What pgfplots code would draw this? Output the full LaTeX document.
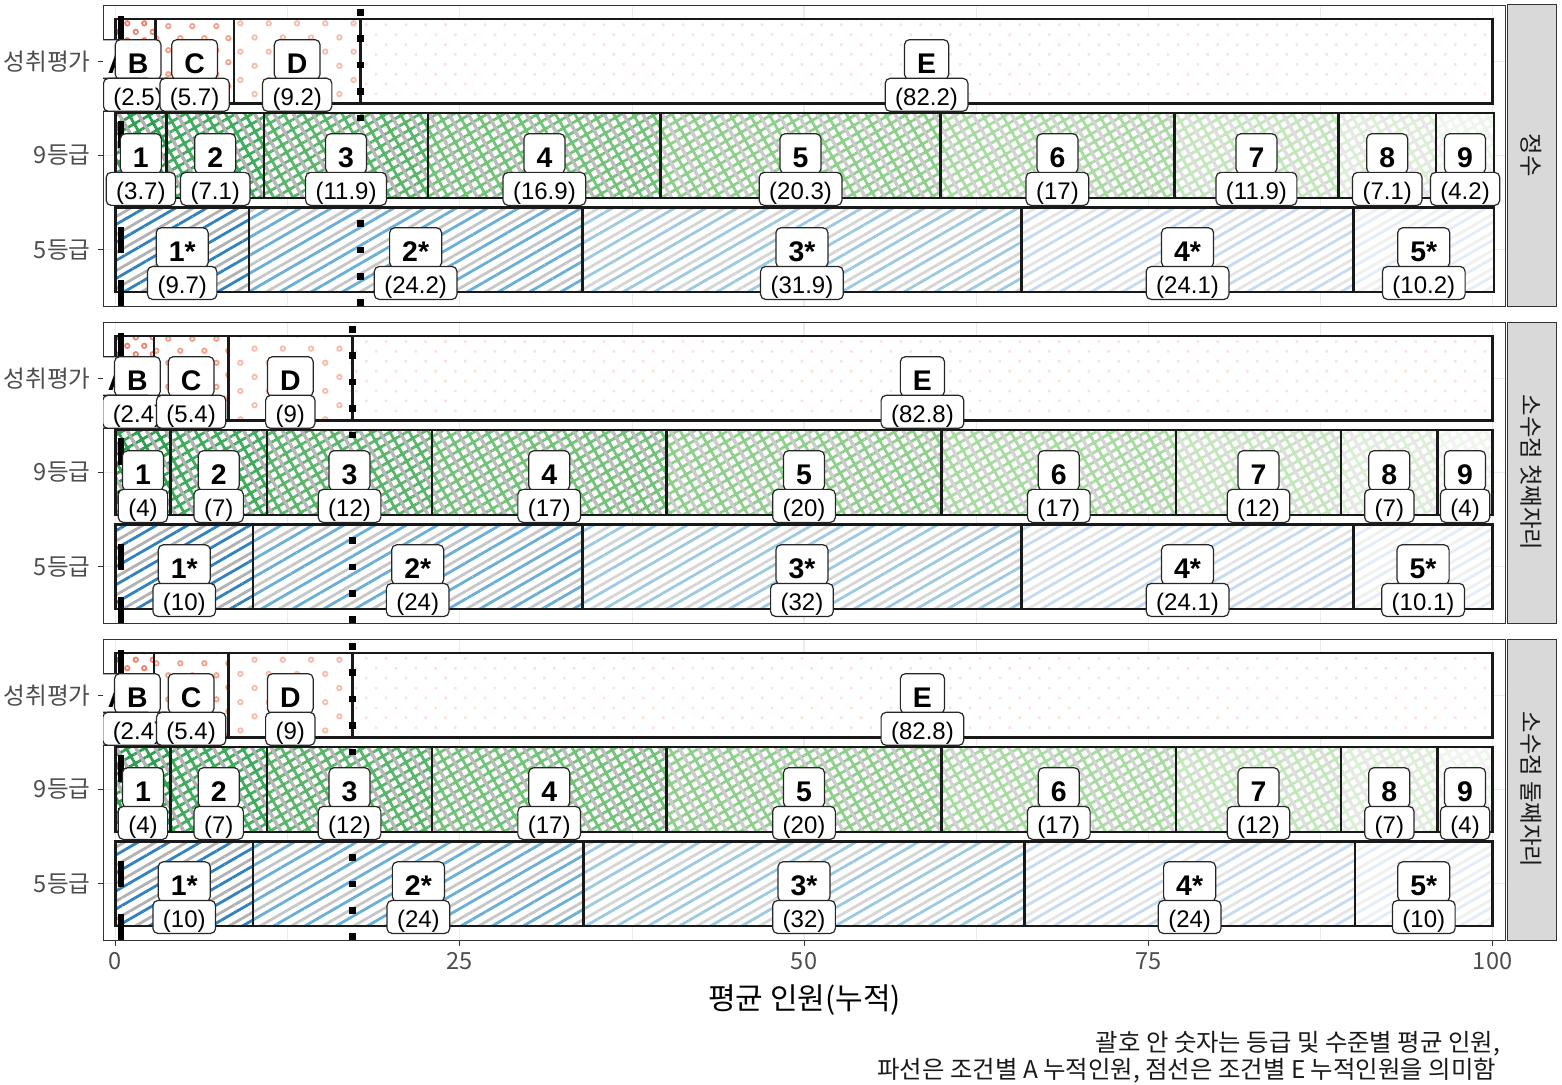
\documentclass[border=0pt]{standalone}
\usepackage{fontspec}
\setmainfont{Liberation Sans}
\newfontfamily\kr{Noto Sans CJK KR}
\usepackage{pgfplots}
\usepackage{pgfplotstable}
\pgfplotsset{compat=1.18}
\usetikzlibrary{patterns.meta}

\definecolor{gray20}{HTML}{333333}
\definecolor{gray30}{HTML}{4D4D4D}
\definecolor{gray92}{HTML}{EBEBEB}
\definecolor{gray85}{HTML}{D9D9D9}
\definecolor{ink}{HTML}{1A1A1A}
% reds (achievement levels)
\definecolor{rA}{HTML}{E5533D}
\definecolor{rB}{HTML}{F08470}
\definecolor{rC}{HTML}{F4A08B}
\definecolor{rD}{HTML}{F7BCAB}
\definecolor{rE}{HTML}{FBE3DC}
% greens (9 grades)
\definecolor{g1}{HTML}{2F9E50}
\definecolor{g2}{HTML}{41AB5D}
\definecolor{g3}{HTML}{5AB46A}
\definecolor{g4}{HTML}{74C27A}
\definecolor{g5}{HTML}{8FCE8C}
\definecolor{g6}{HTML}{A8DAA2}
\definecolor{g7}{HTML}{C3E6BC}
\definecolor{g8}{HTML}{DCEFD6}
\definecolor{g9}{HTML}{EEF7EC}
% blues (5 grades)
\definecolor{b1}{HTML}{3282BE}
\definecolor{b2}{HTML}{6BAED6}
\definecolor{b3}{HTML}{9ECAE1}
\definecolor{b4}{HTML}{C6DBEF}
\definecolor{b5}{HTML}{E4EDF7}

\pgfplotsset{
  rg/.style 2 args={fill=white, draw=black!90, line width=1.3pt,
    postaction={pattern={Dots[radius=1.6pt,distance=#2,angle=45]}, pattern color=#1},
    postaction={pattern={Dots[radius=0.7pt,distance=#2,angle=45]}, pattern color=white}},
  rgE/.style={fill=white, draw=black!90, line width=1.3pt,
    postaction={pattern={Dots[radius=0.9pt,distance=7pt,angle=45]}, pattern color=rE}},
  gr/.style 2 args={fill=white, draw=black!90, line width=1.3pt,
    postaction={pattern={Hatch[angle=30,distance=4.2pt,line width=1.4pt]}, pattern color=#1},
    postaction={pattern={Lines[angle=120,distance=8.4pt,line width=1.6pt]}, pattern color=#2}},
  bl/.style 2 args={fill=white, draw=black!90, line width=1.3pt,
    postaction={pattern={Lines[angle=30,distance=7.8pt,line width=1.4pt]}, pattern color=#1},
    postaction={pattern={Lines[angle=30,distance=7.8pt,line width=1.4pt,yshift=3.9pt]}, pattern color=#2}},
  panel/.style={
    scale only axis, width=701pt, height=150.5pt, anchor=south west,
    xmin=-0.9, xmax=100.9, ymin=-0.6, ymax=2.6, enlargelimits=false,
    axis line style={gray20, line width=0.5pt},
    xtick={0,25,50,75,100}, minor xtick={12.5,37.5,62.5,87.5},
    ytick={0,1,2}, yticklabels={5등급,9등급,성취평가},
    xmajorgrids, xminorgrids, ymajorgrids,
    major grid style={gray92, line width=0.6pt},
    minor grid style={gray92, line width=0.3pt},
    tick align=outside, tick pos=left,
    major tick length=2.75pt, minor tick length=0pt,
    tick style={gray20, line width=0.5pt},
    tick label style={font=\kr\fontsize{11.8}{13}\selectfont, text=gray30},
    /pgf/number format/assume math mode=true,
    xbar stacked, bar width=0.9,
  },
  over/.style={
    scale only axis, width=701pt, height=150.5pt, anchor=south west,
    xmin=-0.9, xmax=100.9, ymin=-0.6, ymax=2.6, enlargelimits=false,
    hide axis, clip marker paths=true,
  },
  dashA/.style={black, line width=3.3pt, dash pattern=on 13.2pt off 13.2pt},
  dotE/.style={black, line width=3.3pt, dash pattern=on 3.3pt off 9.9pt},
  lett/.style={draw=none, point meta=explicit symbolic, nodes near coords,
    nodes near coords style={font=\bfseries\fontsize{14.2}{15}\selectfont, text=black,
      draw=black!85, line width=0.6pt, fill=white, rounded corners=2.5pt,
      inner xsep=6.3pt, inner ysep=3.2pt, text height=13.5pt, text depth=0pt, anchor=center}},
  vals/.style={draw=none, point meta=explicit symbolic, nodes near coords,
    nodes near coords style={font=\fontsize{12}{13}\selectfont, text=black,
      draw=black!85, line width=0.6pt, fill=white, rounded corners=2.5pt,
      inner xsep=5pt, inner ysep=3pt, text height=10.5pt, text depth=0pt, anchor=center}},
}

% label positions (segment mid points), letters and values
\pgfplotstableread{
x y l v
0.2 2 A (0.4)
1.65 2 B (2.5)
5.75 2 C (5.7)
13.2 2 D (9.2)
58.9 2 E (82.2)
1.85 1 1 (3.7)
7.25 1 2 (7.1)
16.75 1 3 (11.9)
31.15 1 4 (16.9)
49.75 1 5 (20.3)
68.4 1 6 (17)
82.85 1 7 (11.9)
92.35 1 8 (7.1)
98 1 9 (4.2)
4.85 0 1* (9.7)
21.8 0 2* (24.2)
49.85 0 3* (31.9)
77.85 0 4* (24.1)
95 0 5* (10.2)
}\labA

\pgfplotstableread{
x y l v
0.2 2 A (0.4)
1.6 2 B (2.4)
5.5 2 C (5.4)
12.7 2 D (9)
58.6 2 E (82.8)
2 1 1 (4)
7.5 1 2 (7)
17 1 3 (12)
31.5 1 4 (17)
50 1 5 (20)
68.5 1 6 (17)
83 1 7 (12)
92.5 1 8 (7)
98 1 9 (4)
5 0 1* (10)
21.95 0 2* (24)
49.85 0 3* (32)
77.85 0 4* (24.1)
94.95 0 5* (10.1)
}\labB

\pgfplotstableread{
x y l v
0.2 2 A (0.4)
1.6 2 B (2.4)
5.5 2 C (5.4)
12.7 2 D (9)
58.6 2 E (82.8)
2 1 1 (4)
7.5 1 2 (7)
17 1 3 (12)
31.5 1 4 (17)
50 1 5 (20)
68.5 1 6 (17)
83 1 7 (12)
92.5 1 8 (7)
98 1 9 (4)
5 0 1* (10)
22 0 2* (24)
50 0 3* (32)
78 0 4* (24)
95 0 5* (10)
}\labC

\begin{document}
\begin{tikzpicture}
\path[use as bounding box] (0,0) rectangle (781pt,542pt);

% ---------- panel 1: 정수
\begin{axis}[panel, at={(51.5pt,389pt)}, xticklabels={}, xtick style={draw=none}]
\addplot[rg={rA}{6pt}] coordinates {(0,0) (0,1) (0.4,2)};
\addplot[rg={rB}{6pt}] coordinates {(0,0) (0,1) (2.5,2)};
\addplot[rg={rC}{8.5pt}] coordinates {(0,0) (0,1) (5.7,2)};
\addplot[rg={rD}{10pt}] coordinates {(0,0) (0,1) (9.2,2)};
\addplot[rgE] coordinates {(0,0) (0,1) (82.2,2)};
\addplot[gr={g1}{black!30}] coordinates {(0,0) (3.7,1) (0,2)};
\addplot[gr={g2}{black!30}] coordinates {(0,0) (7.1,1) (0,2)};
\addplot[gr={g3}{black!28}] coordinates {(0,0) (11.9,1) (0,2)};
\addplot[gr={g4}{black!26}] coordinates {(0,0) (16.9,1) (0,2)};
\addplot[gr={g5}{black!20}] coordinates {(0,0) (20.3,1) (0,2)};
\addplot[gr={g6}{black!17}] coordinates {(0,0) (17,1) (0,2)};
\addplot[gr={g7}{black!13}] coordinates {(0,0) (11.9,1) (0,2)};
\addplot[gr={g8}{black!9}] coordinates {(0,0) (7.1,1) (0,2)};
\addplot[gr={g9}{black!5}] coordinates {(0,0) (4.2,1) (0,2)};
\addplot[bl={b1}{black!30}] coordinates {(9.7,0) (0,1) (0,2)};
\addplot[bl={b2}{black!22}] coordinates {(24.2,0) (0,1) (0,2)};
\addplot[bl={b3}{black!16}] coordinates {(31.9,0) (0,1) (0,2)};
\addplot[bl={b4}{black!10}] coordinates {(24.1,0) (0,1) (0,2)};
\addplot[bl={b5}{black!6}] coordinates {(10.2,0) (0,1) (0,2)};
\end{axis}
\begin{axis}[over, at={(51.5pt,389pt)}]
\addplot[dashA] coordinates {(0.4,-0.6) (0.4,2.6)};
\addplot[dotE] coordinates {(17.8,-0.6) (17.8,2.6)};
\addplot[lett] table[x=x, y expr=\thisrow{y}+0.02, meta=l] {\labA};
\addplot[vals] table[x=x, y expr=\thisrow{y}-0.355, meta=v] {\labA};
\end{axis}

% ---------- panel 2: 소수점 첫째자리
\begin{axis}[panel, at={(51.5pt,230.5pt)}, xticklabels={}, xtick style={draw=none}]
\addplot[rg={rA}{6pt}] coordinates {(0,0) (0,1) (0.4,2)};
\addplot[rg={rB}{6pt}] coordinates {(0,0) (0,1) (2.4,2)};
\addplot[rg={rC}{8.5pt}] coordinates {(0,0) (0,1) (5.4,2)};
\addplot[rg={rD}{10pt}] coordinates {(0,0) (0,1) (9,2)};
\addplot[rgE] coordinates {(0,0) (0,1) (82.8,2)};
\addplot[gr={g1}{black!30}] coordinates {(0,0) (4,1) (0,2)};
\addplot[gr={g2}{black!30}] coordinates {(0,0) (7,1) (0,2)};
\addplot[gr={g3}{black!28}] coordinates {(0,0) (12,1) (0,2)};
\addplot[gr={g4}{black!26}] coordinates {(0,0) (17,1) (0,2)};
\addplot[gr={g5}{black!20}] coordinates {(0,0) (20,1) (0,2)};
\addplot[gr={g6}{black!17}] coordinates {(0,0) (17,1) (0,2)};
\addplot[gr={g7}{black!13}] coordinates {(0,0) (12,1) (0,2)};
\addplot[gr={g8}{black!9}] coordinates {(0,0) (7,1) (0,2)};
\addplot[gr={g9}{black!5}] coordinates {(0,0) (4,1) (0,2)};
\addplot[bl={b1}{black!30}] coordinates {(10,0) (0,1) (0,2)};
\addplot[bl={b2}{black!22}] coordinates {(23.9,0) (0,1) (0,2)};
\addplot[bl={b3}{black!16}] coordinates {(31.9,0) (0,1) (0,2)};
\addplot[bl={b4}{black!10}] coordinates {(24.1,0) (0,1) (0,2)};
\addplot[bl={b5}{black!6}] coordinates {(10.1,0) (0,1) (0,2)};
\end{axis}
\begin{axis}[over, at={(51.5pt,230.5pt)}]
\addplot[dashA] coordinates {(0.4,-0.6) (0.4,2.6)};
\addplot[dotE] coordinates {(17.2,-0.6) (17.2,2.6)};
\addplot[lett] table[x=x, y expr=\thisrow{y}+0.02, meta=l] {\labB};
\addplot[vals] table[x=x, y expr=\thisrow{y}-0.355, meta=v] {\labB};
\end{axis}

% ---------- panel 3: 소수점 둘째자리
\begin{axis}[panel, at={(51.5pt,72pt)}]
\addplot[rg={rA}{6pt}] coordinates {(0,0) (0,1) (0.4,2)};
\addplot[rg={rB}{6pt}] coordinates {(0,0) (0,1) (2.4,2)};
\addplot[rg={rC}{8.5pt}] coordinates {(0,0) (0,1) (5.4,2)};
\addplot[rg={rD}{10pt}] coordinates {(0,0) (0,1) (9,2)};
\addplot[rgE] coordinates {(0,0) (0,1) (82.8,2)};
\addplot[gr={g1}{black!30}] coordinates {(0,0) (4,1) (0,2)};
\addplot[gr={g2}{black!30}] coordinates {(0,0) (7,1) (0,2)};
\addplot[gr={g3}{black!28}] coordinates {(0,0) (12,1) (0,2)};
\addplot[gr={g4}{black!26}] coordinates {(0,0) (17,1) (0,2)};
\addplot[gr={g5}{black!20}] coordinates {(0,0) (20,1) (0,2)};
\addplot[gr={g6}{black!17}] coordinates {(0,0) (17,1) (0,2)};
\addplot[gr={g7}{black!13}] coordinates {(0,0) (12,1) (0,2)};
\addplot[gr={g8}{black!9}] coordinates {(0,0) (7,1) (0,2)};
\addplot[gr={g9}{black!5}] coordinates {(0,0) (4,1) (0,2)};
\addplot[bl={b1}{black!30}] coordinates {(10,0) (0,1) (0,2)};
\addplot[bl={b2}{black!22}] coordinates {(24,0) (0,1) (0,2)};
\addplot[bl={b3}{black!16}] coordinates {(32,0) (0,1) (0,2)};
\addplot[bl={b4}{black!10}] coordinates {(24,0) (0,1) (0,2)};
\addplot[bl={b5}{black!6}] coordinates {(10,0) (0,1) (0,2)};
\end{axis}
\begin{axis}[over, at={(51.5pt,72pt)}]
\addplot[dashA] coordinates {(0.4,-0.6) (0.4,2.6)};
\addplot[dotE] coordinates {(17.2,-0.6) (17.2,2.6)};
\addplot[lett] table[x=x, y expr=\thisrow{y}+0.02, meta=l] {\labC};
\addplot[vals] table[x=x, y expr=\thisrow{y}-0.355, meta=v] {\labC};
\end{axis}

% ---------- facet strips
\foreach \yb/\lab in {389/정수, 230.5/소수점 첫째자리, 72/소수점 둘째자리}{
  \draw[gray20, fill=gray85, line width=0.5pt] (753.5pt,\yb pt) rectangle ++(24.5pt,150.5pt);
  \node[rotate=-90, text=ink, font=\kr\fontsize{11.7}{13}\selectfont] at (765.75pt,\yb pt+75.25pt) {\lab};
}

% ---------- axis title and caption
\node[anchor=base, font=\kr\fontsize{15}{17}\selectfont, text=black] at (402.25pt,37.5pt) {평균 인원(누적)};
\node[anchor=base east, font=\kr\fontsize{12.2}{14}\selectfont, text=ink] at (753.5pt,16.3pt) {괄호 안 숫자는 등급 및 수준별 평균 인원,};
\node[anchor=base east, font=\kr\fontsize{12.2}{14}\selectfont, text=ink] at (751.5pt,2.8pt) {파선은 조건별 A 누적인원, 점선은 조건별 E 누적인원을 의미함};
\end{tikzpicture}
\end{document}
